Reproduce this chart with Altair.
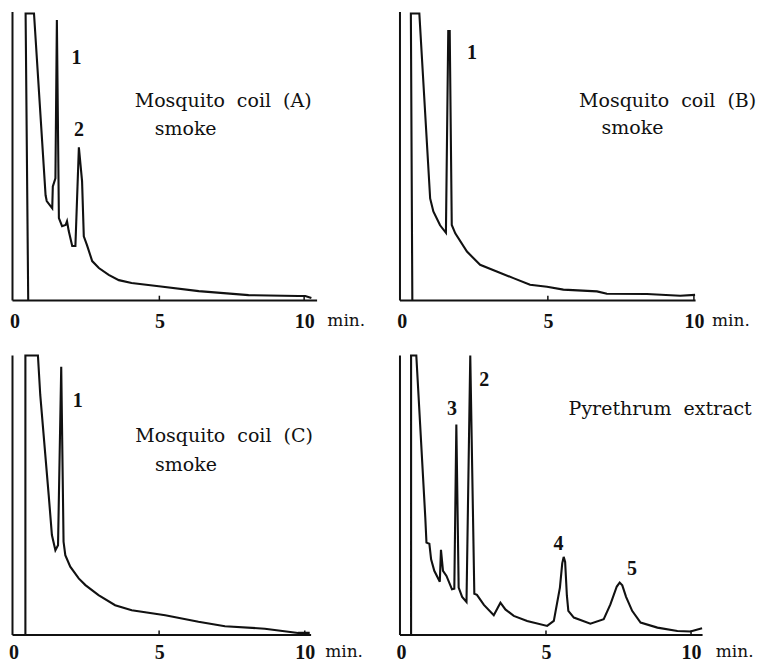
import altair as alt
import pandas as pd

# ---- chromatogram traces (time in min, detector signal in % of full scale) ----
a_t = [0.47, 0.38, 0.67, 1.07, 1.11, 1.30, 1.32, 1.41, 1.46, 1.53, 1.64, 1.76, 1.81, 1.87, 1.99, 2.10,
       2.22, 2.33, 2.39, 2.50, 2.68, 2.91, 3.25, 3.60, 4.04, 4.98, 6.36, 8.08, 9.80, 10.04, 10.25]
a_s = [0, 99.3, 99.3, 36.3, 34.3, 31.8, 39.4, 42.2, 97.0, 28.4, 25.6, 26.0, 27.3, 23.9, 18.7, 18.7,
       52.9, 41.2, 22.1, 19.0, 13.5, 11.1, 8.7, 6.9, 5.9, 4.8, 3.1, 1.7, 1.4, 1.4, 0.7]

b_t = [0.36, 0.31, 0.60, 0.97, 1.08, 1.31, 1.51, 1.59, 1.64, 1.71, 1.83, 2.23, 2.68, 3.25, 3.82,
       4.39, 4.97, 5.53, 6.68, 7.02, 8.39, 9.53, 10.04]
b_s = [0, 99.3, 99.3, 35.2, 30.7, 25.9, 23.3, 93.2, 93.2, 26.0, 23.1, 16.8, 12.2, 9.9, 7.6,
       5.3, 4.6, 3.6, 3.0, 2.2, 2.1, 1.5, 1.8]

c_t = [0.41, 0.41, 0.84, 0.92, 1.21, 1.32, 1.44, 1.53, 1.64, 1.72, 1.78, 1.95, 2.24, 2.47, 2.92,
       3.49, 4.06, 5.21, 6.35, 7.26, 8.63, 9.77, 10.17]
c_s = [0, 99.8, 99.8, 85.7, 49.9, 35.6, 30.2, 32.0, 95.8, 33.2, 28.4, 24.3, 20.1, 17.7, 14.1,
       10.5, 8.7, 6.9, 4.6, 3.0, 2.1, 0.6, 0.6]

d_t = [0.35, 0.35, 0.53, 0.84, 0.88, 0.98, 1.04, 1.15, 1.34, 1.38, 1.45, 1.57, 1.76, 1.84, 1.91,
       1.99, 2.11, 2.26, 2.39, 2.53, 2.62, 2.86, 3.20, 3.43, 3.60, 3.89, 4.35, 5.04, 5.27, 5.48,
       5.56, 5.61, 5.66, 5.72, 5.77, 5.96, 6.53, 6.99, 7.22, 7.44, 7.54, 7.63, 7.76, 7.97, 8.26,
       8.84, 9.53, 9.98, 10.38]
d_s = [0, 99.8, 99.8, 41.8, 32.9, 32.5, 26.9, 22.8, 18.9, 30.3, 22.8, 21.0, 16.2, 16.4, 75.1,
       16.8, 13.5, 11.7, 99.8, 14.6, 14.2, 10.6, 6.9, 11.4, 9.0, 6.7, 4.9, 3.1, 4.9, 16.8,
       25.5, 27.8, 26.0, 14.0, 8.5, 6.1, 3.9, 5.5, 10.8, 17.2, 18.6, 17.6, 13.5, 8.5, 4.3,
       2.5, 1.3, 1.1, 2.3]

# ---- text annotations ----
a_peak_lbl = ["1", "2"];            a_peak_t = [2.14, 2.22];  a_peak_s = [83.7, 58.8]
b_peak_lbl = ["1"];                 b_peak_t = [2.40];        b_peak_s = [85.5]
c_peak_lbl = ["1"];                 c_peak_t = [2.21];        c_peak_s = [83.5]
d_peak_lbl = ["2", "3", "4", "5"];  d_peak_t = [2.87, 1.76, 5.43, 7.96]; d_peak_s = [91.2, 80.5, 32.3, 23.3]

SP = "\u00a0\u00a0"
a_name = ["Mosquito" + SP + "coil" + SP + "(A)", "smoke"]; a_name_t = [4.15, 4.84]; a_name_s = [68.9, 59.2]
b_name = ["Mosquito" + SP + "coil" + SP + "(B)", "smoke"]; b_name_t = [6.07, 6.84]; b_name_s = [68.9, 59.5]
c_name = ["Mosquito" + SP + "coil" + SP + "(C)", "smoke"]; c_name_t = [4.18, 4.86]; c_name_s = [71.0, 60.8]
d_name = ["Pyrethrum" + SP + "extract"];                   d_name_t = [5.78];       d_name_s = [80.5]

unit_lbl = "min."
unit_t = [10.80, 10.62, 10.70, 10.85]
unit_s = [-7.3, -7.3, -6.4, -6.4]

tick_vals = [0, 5, 10]
up_ticks = [5, 10]

FONT = "DejaVu Serif"
NUMFONT = "Liberation Serif"
INK = "#111111"


def panel(t, s, peak_lbl, peak_t, peak_s, names, name_t, name_s, ut, us,
          xdom, width, height, lab_pad):
    trace = pd.DataFrame({"t": t, "s": s, "i": list(range(len(t)))})
    xs = alt.Scale(domain=xdom, nice=False, zero=False)
    ys = alt.Scale(domain=[0, 100], nice=False)
    xax = alt.Axis(values=tick_vals, title=None, grid=False, ticks=False, tickSize=0,
                   domainColor=INK, domainWidth=2, labelFont=NUMFONT, labelFontSize=20,
                   labelFontWeight="bold", labelColor=INK, labelPadding=lab_pad,
                   labelBaseline="middle", labelFlush=False)
    yax = alt.Axis(title=None, grid=False, ticks=False, labels=False, tickSize=0,
                   domainColor=INK, domainWidth=2)
    line = alt.Chart(trace).mark_line(color=INK, strokeWidth=2.1, strokeJoin="miter").encode(
        x=alt.X("t:Q", scale=xs, axis=xax),
        y=alt.Y("s:Q", scale=ys, axis=yax),
        order=alt.Order("i:Q"),
    )
    ticks = alt.Chart(pd.DataFrame({"t": up_ticks, "y0": [0, 0], "y1": [1.5, 1.5]})).mark_rule(
        color=INK, strokeWidth=1.5).encode(x=alt.X("t:Q", scale=xs), y=alt.Y("y0:Q", scale=ys), y2="y1:Q")
    pk = alt.Chart(pd.DataFrame({"t": peak_t, "s": peak_s, "txt": peak_lbl})).mark_text(
        font=NUMFONT, fontSize=20, fontWeight="bold", color=INK, align="center",
        baseline="middle").encode(
        x=alt.X("t:Q", scale=xs), y=alt.Y("s:Q", scale=ys), text="txt:N")
    nm = alt.Chart(pd.DataFrame({"t": name_t, "s": name_s, "txt": names})).mark_text(
        font=FONT, fontSize=19, color=INK, align="left", baseline="middle").encode(
        x=alt.X("t:Q", scale=xs), y=alt.Y("s:Q", scale=ys), text="txt:N")
    un = alt.Chart(pd.DataFrame({"t": [ut], "s": [us], "txt": [unit_lbl]})).mark_text(
        font=FONT, fontSize=17, color=INK, align="left", baseline="middle").encode(
        x=alt.X("t:Q", scale=xs), y=alt.Y("s:Q", scale=ys), text="txt:N")
    return alt.layer(line, ticks, pk, nm, un).properties(width=width, height=height)


pa = panel(a_t, a_s, a_peak_lbl, a_peak_t, a_peak_s, a_name, a_name_t, a_name_s,
           unit_t[0], unit_s[0], [-0.09, 10.43], 305, 289, 21)
pb = panel(b_t, b_s, b_peak_lbl, b_peak_t, b_peak_s, b_name, b_name_t, b_name_s,
           unit_t[1], unit_s[1], [-0.08, 10.04], 296, 289, 21)
pc = panel(c_t, c_s, c_peak_lbl, c_peak_t, c_peak_s, c_name, c_name_t, c_name_s,
           unit_t[2], unit_s[2], [-0.05, 10.2], 299, 280, 18)
pd_ = panel(d_t, d_s, d_peak_lbl, d_peak_t, d_peak_s, d_name, d_name_t, d_name_s,
            unit_t[3], unit_s[3], [-0.05, 10.38], 303, 280, 18)

chart = alt.concat(pa, pb, pc, pd_, columns=2, spacing={"row": 55, "column": 83},
                   bounds="flush", align="each").properties(
    padding={"left": 0, "top": 0, "right": 0, "bottom": 0},
    background="white",
).configure_view(stroke=None).resolve_scale(x="independent", y="independent")

chart.save("out.html", embed_options={"renderer": "svg", "actions": False})
